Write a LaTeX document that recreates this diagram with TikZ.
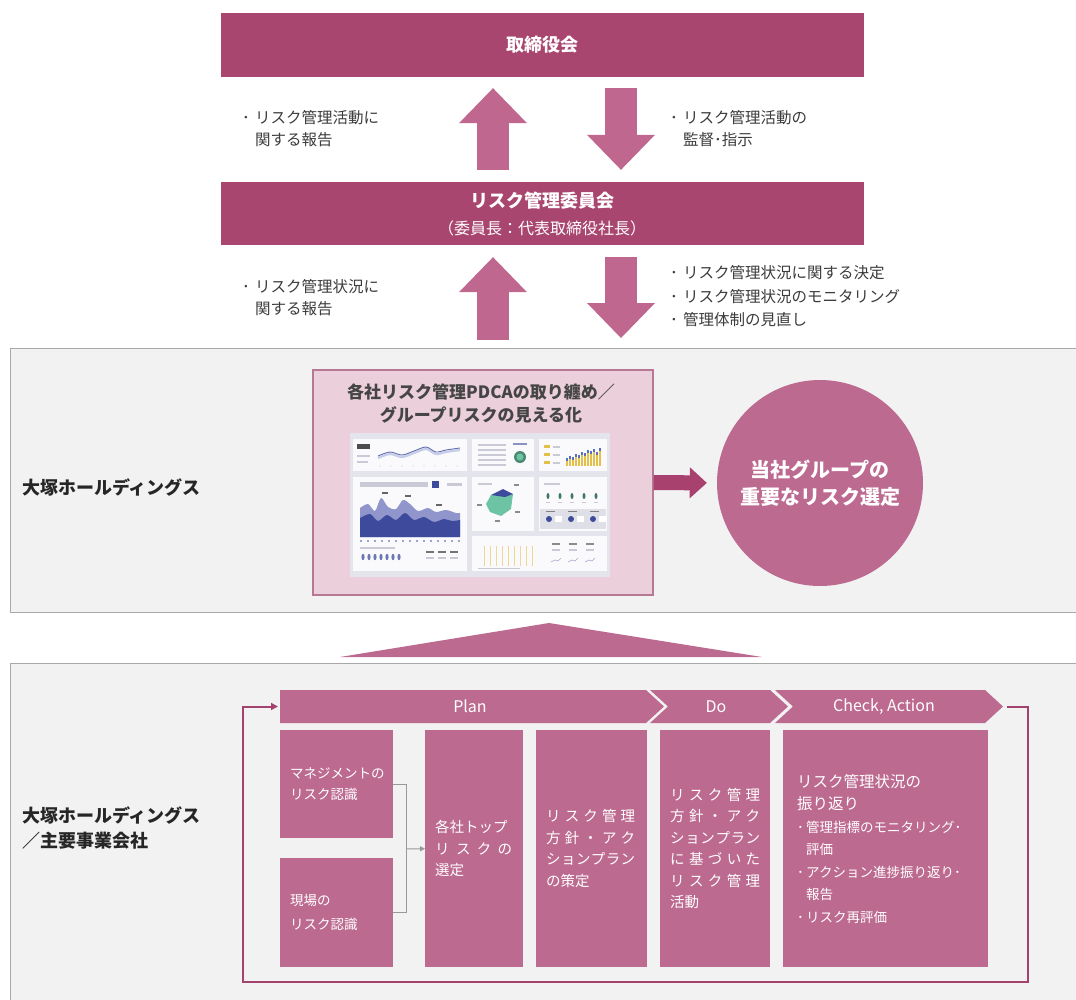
\documentclass[tikz,border=0pt]{standalone}
\usepackage{fontspec}
\setmainfont{Noto Sans CJK JP}
\usetikzlibrary{arrows.meta,calc}

\definecolor{boardmag}{HTML}{A9466F}
\definecolor{arrowmag}{HTML}{C0678F}
\definecolor{boxmag}{HTML}{BD6A90}
\definecolor{loopmag}{HTML}{A3426C}
\definecolor{fatmag}{HTML}{A8416E}
\definecolor{panelgray}{HTML}{F2F2F2}
\definecolor{panelline}{HTML}{A8A8A8}
\definecolor{pinkfill}{HTML}{EBCFDA}
\definecolor{pinkline}{HTML}{B77894}
\definecolor{notegray}{HTML}{3C3C3C}
\definecolor{titlegray}{HTML}{454545}
\definecolor{dashbg}{HTML}{E4E5EC}
\definecolor{dashcard}{HTML}{FAFAFC}
\definecolor{dashnavy}{HTML}{3E4A9B}
\definecolor{dashlav}{HTML}{9096CC}
\definecolor{dashteal}{HTML}{6CC4A4}
\definecolor{dashyel}{HTML}{E2C04A}
\definecolor{dashblue}{HTML}{5870C0}
\definecolor{dashline}{HTML}{C9CAD6}

\newcommand{\fs}[2]{\fontsize{#1}{#2}\selectfont}
\newcommand{\bul}{\makebox[14pt][l]{\hspace{1pt}･}}
\newcommand{\ind}{\hspace*{14pt}}
\newcommand{\sbul}{\makebox[9pt][l]{･}}
\newcommand{\sind}{\hspace*{9pt}}
\newcommand{\spr}[2]{\makebox[#1][s]{#2}}

\begin{document}
\begin{tikzpicture}[x=1pt,y=-1pt,
  topbox/.style={rectangle, fill=boardmag, text=white, inner sep=0pt, align=center, minimum width=643pt},
  note/.style={anchor=west, inner sep=0pt, align=left, text=notegray, font=\fs{15.5}{22}},
  bigarrow/.style={draw=arrowmag, line width=32pt, -{Triangle[length=35pt,width=68pt,line width=0pt]}},
  fatarrow/.style={draw=fatmag, line width=15pt, -{Triangle[length=17pt,width=31pt,line width=0pt]}},
  panel/.style={rectangle, fill=panelgray, draw=panelline, line width=0.9pt, anchor=north west, inner sep=0pt},
  sidelabel/.style={anchor=west, inner sep=0pt, align=left, text=black!85, font=\fs{18}{25}\bfseries},
  stepcard/.style={rectangle, fill=boxmag, text=white, anchor=north west, inner ysep=0pt, inner xsep=10pt, align=left, font=\fs{14.5}{21.5}},
  chevtext/.style={text=white, font=\fs{16}{16}, inner sep=0pt},
  loopline/.style={draw=loopmag, line width=2pt, -{Triangle[length=7pt,width=7pt]}},
  joinline/.style={draw=gray!80, line width=1pt},
]
\useasboundingbox (0,0) rectangle (1076,999);
\fill[white] (0,0) rectangle (1076,999);

% background panels
\node[panel, minimum width=1085pt, minimum height=264pt] (hdpanel) at (10,348) {};
\node[panel, minimum width=1085pt, minimum height=350pt] (grppanel) at (10,663) {};

% governance boxes
\node[topbox, minimum height=64pt, font=\fs{18}{22}\bfseries] (board) at (542,45) {取締役会};
\node[topbox, minimum height=63pt, font=\fs{18}{27}] (committee) at (542,213.5)
  {{\bfseries リスク管理委員会}\\{\fs{16}{27}（委員長：代表取締役社長）}};

% reporting / supervision arrows
\draw[bigarrow] ($(committee.north)+(-49,-12)$) -- ($(board.south)+(-49,11)$);
\draw[bigarrow] ($(board.south)+(79,11)$) -- ($(committee.north)+(79,-12)$);
\draw[bigarrow] ($(hdpanel.north -| committee.south)+(-49,-8)$) -- ($(committee.south)+(-49,12)$);
\draw[bigarrow] ($(committee.south)+(79,12)$) -- ($(hdpanel.north -| committee.south)+(79,-10)$);

\node[note] (upnote1) at (241,129) {\bul リスク管理活動に\\\ind 関する報告};
\node[note] (downnote1) at (669,129) {\bul リスク管理活動の\\\ind 監督･指示};
\node[note] (upnote2) at (241,297.5) {\bul リスク管理状況に\\\ind 関する報告};
\node[note, font=\fs{15.5}{23.5}] (downnote2) at (669,296.5)
  {\bul リスク管理状況に関する決定\\\bul リスク管理状況のモニタリング\\\bul 管理体制の見直し};

% holdings level
\node[sidelabel] (hdlabel) at (22,487) {大塚ホールディングス};
\node[rectangle, fill=pinkfill, draw=pinkline, line width=1.2pt, minimum width=340pt, minimum height=225pt, inner sep=0pt]
  (summary) at (483,482.5) {};
\node[text=titlegray, font=\fs{17}{23}\bfseries, align=center, inner sep=0pt] (sumtitle) at (481,403.5)
  {各社リスク管理PDCAの取り纏め／\\グループリスクの見える化};

% dashboard illustration
\fill[dashbg] (350,433) rectangle (610,577);
\fill[dashcard] (353,439) rectangle (467,471);
\fill[dashcard] (472,439) rectangle (534,471);
\fill[dashcard] (539,439) rectangle (607,471);
\fill[dashcard] (353,477) rectangle (467,571);
\fill[dashcard] (472,477) rectangle (534,531);
\fill[dashcard] (539,477) rectangle (607,531);
\fill[dashcard] (472,536) rectangle (607,571);
% card: headline figure and trend line
\fill[black!70] (357,444) rectangle (370,449);
\fill[dashline] (357,455) rectangle (370,457);
\fill[dashline] (357,461) rectangle (368,463);
\draw[dashblue!35, line width=2.2pt] plot[smooth] coordinates {(378,458) (390,454) (402,457) (414,453) (426,449) (436,454) (446,452) (460,450)};
\draw[dashnavy!80, line width=0.9pt] plot[smooth] coordinates {(378,456) (390,452) (402,455) (414,451) (426,447) (436,452) (446,450) (460,448)};
\foreach \i in {0,...,7} \fill[dashline] ({380+\i*11},466) circle (0.6);
% card: list and gauge
\foreach \i in {0,...,4} \fill[dashline] (478,{444+\i*5}) rectangle (506,{445.5+\i*5});
\fill[dashnavy!60] (513,443) rectangle (527,445);
\fill[dashteal!70!black] (520,457) circle (6);
\fill[dashteal] (520,457) circle (3.5);
% card: bars
\foreach \i in {0,1,2} {\fill[dashyel] (544,{445+\i*8}) rectangle (550,{448+\i*8}); \fill[dashline] (553,{445.5+\i*8}) rectangle (560,{447.5+\i*8});}
\foreach \bx/\bh in {566/8,569/10,572/9,575/12,578/11,581/14,584/13,587/16,590/15,593/17,596/14,599/18}
  {\fill[dashyel] (\bx,466) rectangle ++(1.6,-\bh); \fill[dashblue] (\bx,{466-\bh}) rectangle ++(1.6,3);}
% card: area chart
\fill[dashline] (360,482) rectangle (428,487);
\fill[dashnavy] (432,481) rectangle (439,488);
\fill[dashline] (447,483) rectangle (462,486);
\fill[dashlav] (360,537) -- plot[smooth] coordinates {(360,508) (368,504) (375,511) (381,498) (388,507) (396,509) (403,500) (410,504) (418,511) (428,508) (436,512) (446,510) (456,513) (460,513)} -- (460,537) -- cycle;
\fill[dashnavy] (360,537) -- plot[smooth] coordinates {(360,518) (370,514) (378,521) (387,515) (396,520) (405,513) (414,520) (424,517) (434,522) (444,519) (452,521) (460,520)} -- (460,537) -- cycle;
\foreach \p in {(382,494),(405,497),(436,506)} \fill[black!60] \p rectangle ++(6,-2.5);
\foreach \i in {0,...,14} \fill[dashnavy] ({361+\i*7},541) circle (0.9);
\fill[dashline] (360,547) rectangle (395,548.5);
\foreach \i in {0,...,6} \fill[dashnavy!75] ({363+\i*6},557) ellipse (1.6 and 3.2);
\foreach \i in {0,1,2} {\fill[black!55] ({426+\i*12},553) rectangle ++(8,-2.5); \fill[dashline] ({426+\i*12},559) rectangle ++(8,-2);}
% card: radar
\fill[dashline] (478,483) rectangle (492,485);
\fill[dashteal] (486,504) -- (491,495) -- (503,492) -- (513,494) -- (511,509) -- (501,516) -- (490,512) -- cycle;
\fill[dashnavy] (491,495) -- (503,489) -- (513,494) -- (505,497) -- cycle;
\foreach \p in {(514,486),(477,506),(515,513),(495,522)} \fill[black!45] \p rectangle ++(5,-2);
% card: gauges
\fill[dashline] (544,483) rectangle (560,485);
\foreach \i in {0,...,4} {\fill[dashteal!60!black] ({548+\i*12},496) ellipse (1.5 and 3); \fill[dashline] ({546+\i*12},503) rectangle ++(4,-1.5);}
\fill[dashline!60] (540,509) rectangle (606,529);
\foreach \i in {0,1,2} {\fill[dashnavy] ({549+\i*22},519) circle (3); \fill[white] ({555+\i*22},516) rectangle ++(7,6); \fill[black!50] ({546+\i*22},512) rectangle ++(9,-1.5);}
% card: columns
\foreach \i in {0,...,8} \draw[dashyel!60, line width=0.6pt] ({484+\i*6},546) -- ({484+\i*6},566);
\foreach \i in {0,1,2} {\fill[black!45] ({552+\i*17},545) rectangle ++(8,-2); \fill[dashline] ({552+\i*17},551) rectangle ++(8,-2); \draw[dashnavy!50, line width=0.5pt] ({551+\i*17},562) -- ++(4,-2) -- ++(3,1) -- ++(3,-3);}
\fill[dashline] (478,568) rectangle (520,569);

% selection of group risks
\node[circle, fill=boxmag, minimum size=206pt, inner sep=0pt, text=white, align=center, font=\fs{20}{27}\bfseries]
  (grouprisk) at (820,483) {当社グループの\\重要なリスク選定};
\draw[fatarrow, shorten >=10pt] (summary.east) -- (grouprisk.west);

% upward aggregation
\fill[boxmag] (549,623) -- (762,657) -- (340,657) -- cycle;

% group companies level
\node[sidelabel] (grplabel) at (22,827.5) {大塚ホールディングス\\／主要事業会社};

% PDCA chevrons
\fill[boxmag] (280,690) -- (646,690) -- (664,706.5) -- (646,723) -- (280,723) -- cycle;
\fill[boxmag] (650,690) -- (770,690) -- (788,706.5) -- (770,723) -- (650,723) -- (668,706.5) -- cycle;
\fill[boxmag] (775,690) -- (985,690) -- (1003,706.5) -- (985,723) -- (775,723) -- (793,706.5) -- cycle;
\node[chevtext] (plan) at (470,706.5) {Plan};
\node[chevtext] (do) at (716,706.5) {Do};
\node[chevtext] (check) at (884,706.5) {Check, Action};
\coordinate (cycleend) at (1003,706.5);
\coordinate (cyclestart) at (280,706.5);
\coordinate (loopright) at (1028,982);
\coordinate (loopleft) at (243,982);

% step cards
\node[stepcard, minimum width=113pt, minimum height=108pt, text width=93pt, font=\fs{13.5}{21.5}] (mgmt) at (280,730)
  {マネジメントの\\リスク認識};
\node[stepcard, minimum width=113pt, minimum height=109pt, text width=93pt, font=\fs{13.5}{24}] (field) at (280,858)
  {現場の\\リスク認識};
\node[stepcard, minimum width=98pt, minimum height=237pt, text width=78pt] (toprisk) at (425,730)
  {各社トップ\\\spr{77pt}{リ\hfill ス\hfill ク\hfill の}\\選定};
\node[stepcard, minimum width=111pt, minimum height=237pt, text width=91pt] (policy) at (536,730)
  {\spr{89pt}{リ\hfill ス\hfill ク\hfill 管\hfill 理}\\\spr{89pt}{方\hfill 針\hfill ・\hfill ア\hfill ク}\\\spr{89pt}{シ\hfill ョ\hfill ン\hfill プ\hfill ラ\hfill ン}\\の策定};
\node[stepcard, minimum width=110pt, minimum height=237pt, text width=90pt] (action) at (660,730)
  {\spr{90pt}{リ\hfill ス\hfill ク\hfill 管\hfill 理}\\\spr{90pt}{方\hfill 針\hfill ・\hfill ア\hfill ク}\\\spr{90pt}{シ\hfill ョ\hfill ン\hfill プ\hfill ラ\hfill ン}\\\spr{90pt}{に\hfill 基\hfill づ\hfill い\hfill た}\\\spr{90pt}{リ\hfill ス\hfill ク\hfill 管\hfill 理}\\活動};
\node[stepcard, minimum width=205pt, minimum height=237pt, text width=177pt, inner xsep=14pt, font=\fs{15.5}{22.5}] (review) at (783,730)
  {リスク管理状況の\\振り返り\\{\fs{13.5}{22.5}\sbul 管理指標のモニタリング･}\\{\fs{13.5}{22.5}\sind 評価}\\{\fs{13.5}{22.5}\sbul アクション進捗振り返り･}\\{\fs{13.5}{22.5}\sind 報告}\\{\fs{13.5}{22.5}\sbul リスク再評価}};

% merging the two risk perceptions
\coordinate (merge) at (406,849);
\draw[joinline] (mgmt.east) -| (merge);
\draw[joinline] (field.east) -| (merge);
\draw[joinline, -{Triangle[length=5pt,width=5pt]}] (merge) -- (toprisk.west);

% PDCA feedback loop
\draw[loopline] ([xshift=4pt]cycleend) -| (loopright) -- (loopleft) |- ([xshift=-2pt]cyclestart);

\end{tikzpicture}
\end{document}
